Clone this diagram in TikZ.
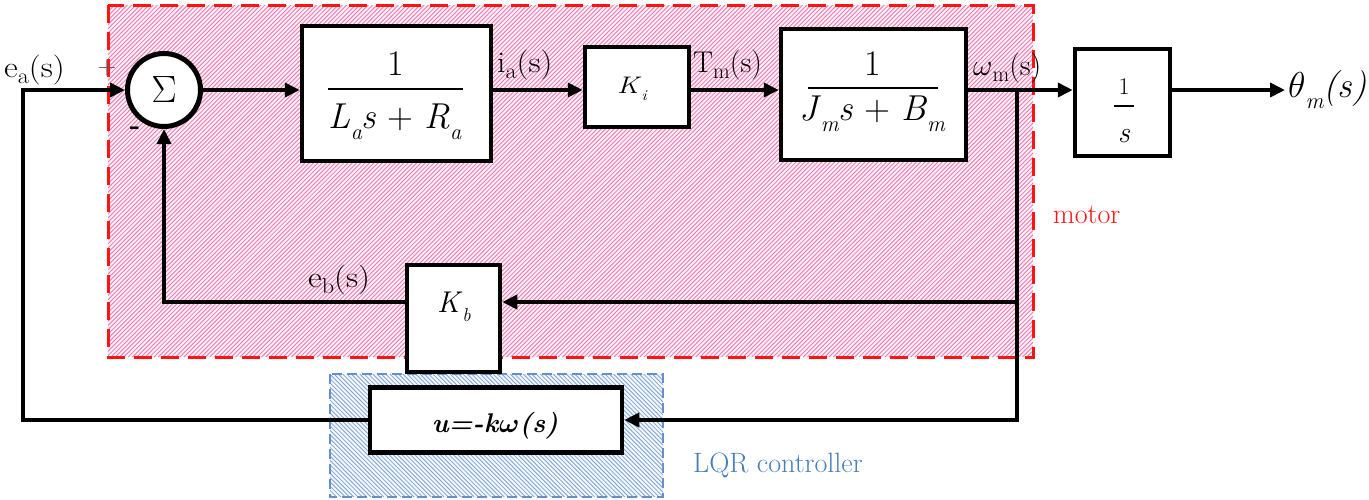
\documentclass[tikz,border=0pt]{standalone}
\usepackage{fix-cm}
\usepackage{amsmath}
\usepackage{graphicx}
\usetikzlibrary{arrows.meta}
\definecolor{hatchred}{RGB}{238,120,178}
\definecolor{bgred}{RGB}{253,240,246}
\definecolor{dashred}{RGB}{255,20,20}
\definecolor{hatchblue}{RGB}{130,165,214}
\definecolor{bgblue}{RGB}{244,247,252}
\definecolor{dashblue}{RGB}{100,145,205}
\definecolor{txtblue}{RGB}{70,125,190}
\newcommand\lsub[1]{\raisebox{-0.2em}{\scalebox{0.72}{#1}}}
\newcommand\msub[1]{\raisebox{-0.32em}{\scalebox{0.62}{\itshape #1}}}
\begin{document}
\begin{tikzpicture}[x=1pt,y=-1pt,
  conn/.style={line width=4pt,-{Triangle[length=15pt,width=14pt]}},
  blockbox/.style={draw,line width=4.5pt,fill=white,inner sep=0pt},
  lab/.style={font=\fontsize{30}{33}\selectfont,inner sep=0pt,anchor=base west},
  mtxt/.style={font=\fontsize{36}{40}\selectfont,inner sep=0pt,anchor=base},
  fracbar/.style={line width=2pt},
  hatchr/.style={hatchred,line width=0.85pt},
  hatchb/.style={hatchblue,line width=0.8pt}
]
\useasboundingbox (0,0) rectangle (1369,499);
% motor region
\fill[bgred] (108,5) rectangle (1033,357);
\begin{scope}
  \clip (108,5) rectangle (1033,357);
  \foreach \i in {0,...,300}
    \draw[hatchr] ({-246+\i*4.3},357) -- ++(352,-352);
\end{scope}
\draw[dashred,line width=3pt,dash pattern=on 18pt off 9pt] (108,5) rectangle (1033,357);
% LQR region
\fill[bgblue] (330,374) rectangle (663,497);
\begin{scope}
  \clip (330,374) rectangle (663,497);
  \foreach \i in {0,...,110}
    \draw[hatchb] ({205+\i*4.3},374) -- ++(123,123);
\end{scope}
\draw[dashblue,line width=2pt,dash pattern=on 10pt off 5pt] (330,374) rectangle (663,497);

% blocks
\node[draw,circle,line width=5pt,fill=white,minimum size=73pt,inner sep=0pt,font=\fontsize{38}{40}\selectfont] (sum) at (164,90) {$\Sigma$};
\node[blockbox,minimum width=189pt,minimum height=135pt] (b1) at (396.5,93.5) {};
\node[blockbox,minimum width=104pt,minimum height=80pt] (ki) at (637,87) {};
\node[blockbox,minimum width=185pt,minimum height=131pt] (b3) at (873.5,94.5) {};
\node[blockbox,minimum width=95pt,minimum height=107pt] (ints) at (1122.5,102.5) {};
\node[blockbox,minimum width=93pt,minimum height=107pt] (kb) at (453.5,318.5) {};
\node[blockbox,minimum width=252pt,minimum height=65pt] (lqr) at (496,420) {};

% block contents
\node[mtxt] (n1) at (396,75) {1};
\draw[fracbar] (328,89) -- (463,89);
\node[mtxt] (d1) at (395,128) {\textit{L}\msub{a}\textit{s} + \textit{R}\msub{a}};
\node[mtxt] (n3) at (873,75) {1};
\draw[fracbar] (808,88) -- (938,88);
\node[mtxt] (d3) at (872,120) {\textit{J}\msub{m}\textit{s} + \textit{B}\msub{m}};
\node[mtxt,font=\fontsize{24}{26}\selectfont] (n4) at (1124,94) {1};
\draw[fracbar] (1114,106) -- (1134,106);
\node[mtxt,font=\fontsize{30}{32}\selectfont] (d4) at (1124,142) {\textit{s}};
\node[mtxt,font=\fontsize{24}{26}\selectfont] (kit) at (632,93) {\scalebox{1.2}[1]{\textit{K}\msub{i}}};
\node[mtxt,font=\fontsize{30}{32}\selectfont] (kbt) at (454,312) {\textit{K}\msub{b}};
\node[mtxt,font=\fontsize{27}{30}\selectfont] (lqrt) at (495,432) {\textbf{\textit{u=-k}}$\boldsymbol{\omega}$\textbf{\textit{(s)}}};

% coordinates
\coordinate (tap) at (1017,90);
\coordinate (tap2) at (1017,302);
\coordinate (out) at (1285,90);
\coordinate (fbc) at (164,302);
\coordinate (leftx) at (23,90);

% connectors
\draw[conn] (lqr.west) -| (leftx) -- (sum.west);
\draw[conn] (sum.east) -- (sum.east -| b1.west);
\draw[conn] (b1.east |- tap) -- (ki.west |- tap);
\draw[conn] (ki.east |- tap) -- (b3.west |- tap);
\draw[conn] (b3.east |- tap) -- (ints.west |- tap);
\draw[conn] (ints.east |- tap) -- (out);
\draw[conn] (tap) -- (tap |- lqr.east) -- (lqr.east);
\draw[conn] (tap2) -- (tap2 -| kb.east);
\draw[conn] (kb.west |- tap2) -- (fbc) -- (sum.south);

% labels
\node[lab] (ea) at (4,77) {\scalebox{1.12}[1]{e\lsub{a}(s)}};
\node[lab] (ia) at (497,72) {\scalebox{1.12}[1]{i\lsub{a}(s)}};
\node[lab] (tm) at (693,72) {T\lsub{m}(s)};
\node[lab] (wm) at (973,75) {$\omega$\lsub{m}(s)};
\node[lab] (eb) at (308,287) {\scalebox{1.12}[1]{e\lsub{b}(s)}};
\node[font=\fontsize{26}{28}\selectfont\color{gray!70!black},inner sep=0pt] (plus) at (107,68) {+};
\node[font=\fontsize{28}{30}\selectfont\bfseries,inner sep=0pt] (minus) at (135,131) {-};
\node[lab,text=dashred,font=\fontsize{28}{30}\selectfont] (motor) at (1053,223) {motor};
\node[lab,text=txtblue,font=\fontsize{28}{30}\selectfont] (lqrlab) at (693,472) {LQR controller};
\node[lab,font=\fontsize{36}{38}\selectfont] (theta) at (1288,97) {$\theta$\msub{m}\textit{(s)}};
\end{tikzpicture}
\end{document}
